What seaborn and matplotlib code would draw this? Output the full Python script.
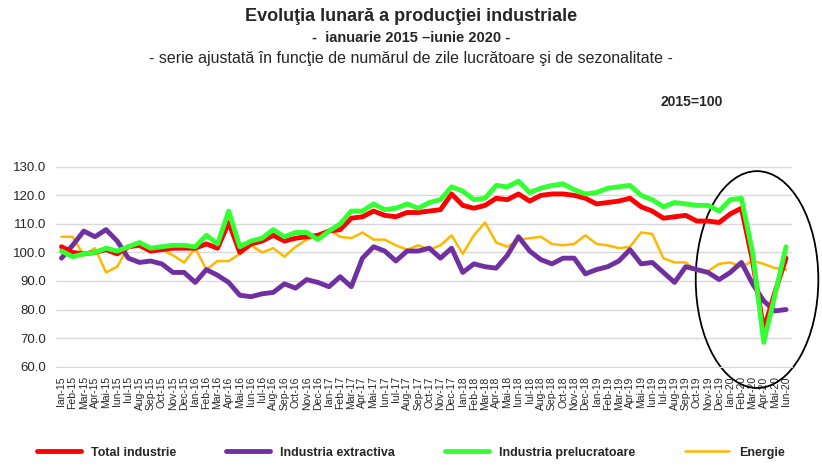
import matplotlib.pyplot as plt
import numpy as np
import pandas as pd
import seaborn as sns
from matplotlib.patches import Ellipse

months = ["Ian", "Feb", "Mar", "Apr", "Mai", "Iun", "Iul", "Aug", "Sep", "Oct", "Nov", "Dec"]
labels = ["{}-{}".format(m, y) for y in range(15, 21) for m in months][:66]

total = [102, 100, 99.5, 100, 101, 99.5, 102, 102.5, 100.5, 101, 101.5, 101.5,
         101.5, 103, 101.5, 110.5, 100, 103, 104, 106, 104, 105, 105.5, 106,
         107.5, 108, 112, 112.5, 114.5, 113, 112.5, 114, 114, 114.5, 115, 120.5,
         116.5, 115.5, 116.5, 119, 118.5, 120.5, 118, 120, 120.5, 120.5, 120, 119,
         117, 117.5, 118, 119, 116, 114.5, 112, 112.5, 113, 111, 111, 110.5,
         113.5, 115.5, 97, 73, 86, 98]
extractiva = [98, 102.5, 107.5, 105.5, 108, 104, 98, 96.5, 97, 96, 93, 93,
              89.5, 94, 92, 89.5, 85, 84.5, 85.5, 86, 89, 87.5, 90.5, 89.5,
              88, 91.5, 88, 98, 102, 100.5, 97, 100.5, 100.5, 101.5, 98, 101.5,
              93, 96, 95, 94.5, 99, 105.5, 100.5, 97.5, 96, 98, 98, 92.5,
              94, 95, 97, 101, 96, 96.5, 93, 89.5, 95, 94, 93, 90.5,
              93, 96.5, 89, 83, 79.5, 80]
prelucratoare = [100.5, 98.5, 99.5, 100, 101.5, 100.5, 102, 103.5, 101.5, 102, 102.5, 102.5,
                 102, 106, 103, 114.5, 102, 104, 105, 108, 105.5, 107, 107, 104.5,
                 107.5, 110, 114.5, 114.5, 117, 115, 115.5, 117, 115.5, 117.5, 118.5, 123,
                 121.5, 118.5, 119, 123.5, 123, 125, 121, 122.5, 123.5, 124, 122, 120.5,
                 121, 122.5, 123, 123.5, 120, 118.5, 116, 117.5, 117, 116.5, 116.5, 114.5,
                 118.5, 119, 100, 68.5, 85, 102]
energie = [105.5, 105.5, 99, 101.5, 93, 95, 102, 102, 100, 101, 99, 96.5,
           101.5, 94, 97, 97, 99.5, 102.5, 100, 101.5, 98.5, 102, 104.5, 106,
           108, 105.5, 105, 107, 104.5, 104.5, 102.5, 101, 102.5, 101, 102.5, 106,
           99.5, 106, 110.5, 103.5, 102, 104.5, 105, 105.5, 103, 102.5, 103, 106,
           103, 102.5, 101.5, 102, 107, 106.5, 98, 96.5, 96.5, 93.5, 93.5, 96,
           96.5, 95, 97, 96, 94.5, 94]

sns.set_style("white")
plt.rc("font", family="Liberation Sans")

data = pd.DataFrame({"luna": np.arange(len(labels)), "Total industrie": total,
                     "Industria extractiva": extractiva,
                     "Industria prelucratoare": prelucratoare, "Energie": energie})
data = data.melt(id_vars="luna", var_name="serie", value_name="indice")

fig, ax = plt.subplots(figsize=(8.22, 4.7), dpi=100)
fig.subplots_adjust(left=0.068, right=0.963, top=0.645, bottom=0.22)
colors = {"Total industrie": "#ff0000", "Industria extractiva": "#7030a0",
          "Industria prelucratoare": "#33ff33", "Energie": "#ffb800"}
sizes = {"Total industrie": 3.5, "Industria extractiva": 3.5,
         "Industria prelucratoare": 3.5, "Energie": 1.8}
for name in ["Energie", "Industria extractiva", "Total industrie", "Industria prelucratoare"]:
    sns.lineplot(data=data[data.serie == name], x="luna", y="indice", color=colors[name],
                 linewidth=sizes[name], label=name, ax=ax, legend=False)

ax.set_ylim(60, 130)
ax.set_yticks(np.arange(60, 131, 10))
ax.set_yticklabels(["{:.1f}".format(v) for v in range(60, 131, 10)], fontsize=9.5)
ax.set_xlim(-0.5, len(labels) - 0.5)
ax.set_xticks(range(len(labels)))
ax.set_xticklabels(labels, rotation=90, fontsize=7.5)
ax.yaxis.grid(True, color="#d9d9d9", linewidth=1)
ax.set_xlabel("")
ax.set_ylabel("")
for s in ["top", "right", "left"]:
    ax.spines[s].set_visible(False)
ax.spines["bottom"].set_color("#d9d9d9")

ax.add_patch(Ellipse((62.4, 90.5), 11, 76, fill=False, edgecolor="black", linewidth=1.3, clip_on=False))

handles, names = ax.get_legend_handles_labels()
order = [names.index(n) for n in colors]
fig.legend([handles[i] for i in order], [names[i] for i in order], loc="lower center",
           ncol=4, frameon=False, bbox_to_anchor=(0.5, 0.0), prop={"weight": "bold", "size": 9},
           handlelength=3.5, columnspacing=4)

fig.text(0.5, 0.955, "Evoluţia lunară a producţiei industriale", ha="center", fontsize=13, weight="bold")
fig.text(0.5, 0.91, "-  ianuarie 2015 –iunie 2020 -", ha="center", fontsize=10.5, weight="bold")
fig.text(0.5, 0.865, "- serie ajustată în funcţie de numărul de zile lucrătoare şi de sezonalitate -", ha="center", fontsize=11.5)
fig.text(0.88, 0.775, "2015=100", ha="right", fontsize=10, weight="bold")

fig.savefig("out.png")
